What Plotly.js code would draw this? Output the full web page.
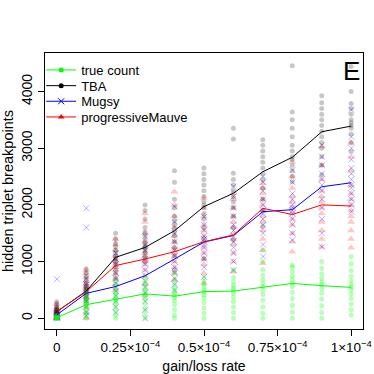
<!DOCTYPE html>
<html>
<head>
<meta charset="utf-8">
<script src="https://cdn.plot.ly/plotly-3.0.1.min.js"></script>
<style>html,body{margin:0;padding:0;background:#fff;}#chart{width:374px;height:374px;}</style>
</head>
<body>
<div id="chart"></div>
<script>
// gain/loss rates (x categories)
const rates = [0, 1e-5, 2e-5, 3e-5, 4e-5, 5e-5, 6e-5, 7e-5, 8e-5, 9e-5, 1e-4];
const seriesNames = ["true count", "TBA", "Mugsy", "progressiveMauve"];

// mean lines
const trueMean  = [10, 240, 335, 430, 390, 470, 480, 545, 615, 575, 545];
const tbaMean   = [115, 480, 1075, 1250, 1545, 1970, 2205, 2585, 2840, 3290, 3390];
const mugsyMean = [60, 440, 560, 750, 1045, 1345, 1460, 1880, 1915, 2320, 2390];
const mauveMean = [120, 470, 930, 1045, 1175, 1350, 1470, 1940, 1830, 2000, 1980];

// replicate points per rate
const truePts = [
  [0,0,0,5,10,10,15,20,25,30,40,55],
  [0,40,90,140,180,210,240,260,290,320,350,380,420,470],
  [0,60,130,200,260,300,330,360,400,440,480,540,600,660],
  [0,80,160,250,330,380,420,460,500,540,600,660,720],
  [0,60,150,240,310,360,400,440,480,530,600,680,790],
  [0,90,180,280,360,420,460,500,550,600,650,720],
  [0,100,200,290,370,440,490,530,580,640,720,850],
  [0,90,200,320,420,500,560,610,680,760,860,1000,1200],
  [0,110,230,350,460,560,620,680,740,820,900,940],
  [0,100,220,340,450,530,590,640,700,780,880,1000],
  [60,150,250,350,430,500,550,600,660,740,840,960,1090]
];
const tbaPts = [
  [0,30,60,80,100,120,140,160,180,210,250,290],
  [300,350,380,420,450,480,510,540,580,620,680,740,800,870],
  [700,800,880,950,1000,1050,1100,1150,1200,1260,1320,1400,1500],
  [1000,1080,1150,1200,1240,1280,1320,1380,1450,1520,1600,1750,1900,2000],
  [850,1100,1250,1350,1450,1520,1580,1650,1720,1800,1950,2100,2400,2600],
  [1050,1400,1600,1750,1850,1950,2000,2060,2150,2250,2350,2450,2550,2650],
  [1380,1600,1800,1950,2050,2150,2250,2350,2450,2560,3160,3350],
  [1620,1900,2100,2300,2450,2550,2650,2750,2850,2950,3050,3150],
  [2410,2500,2600,2700,2800,2850,2950,3050,3200,3350,3500,3640,4455],
  [2530,2700,2850,3000,3100,3200,3300,3400,3500,3600,3700,3800,3925],
  [2940,3100,3250,3350,3400,3450,3500,3600,3700,3790,4000,4440]
];
const mugsyPts = [
  [0,10,20,30,40,50,60,70,90,120,690],
  [50,100,200,300,380,450,500,550,600,700,1600,1940],
  [100,200,300,400,480,550,620,700,800,950,1050,1150],
  [0,150,300,450,550,650,750,850,950,1050,1200,1300,1450],
  [500,600,700,800,900,1000,1100,1200,1350,1500,1700,1970],
  [730,900,1050,1150,1250,1300,1350,1400,1450,1550,1650,1790],
  [850,1000,1150,1250,1350,1450,1550,1650,1800,1950,2150,2320],
  [1090,1300,1500,1650,1750,1850,1900,2000,2100,2250,2400,2500],
  [1380,1500,1650,1750,1850,1900,1950,2000,2100,2200,2400,2615],
  [1260,1500,1750,1950,2100,2250,2350,2450,2550,2700,2850,3055],
  [1880,2000,2100,2200,2300,2350,2450,2550,2650,2800,3000,3200,3675]
];
const mauvePts = [
  [0,0,20,40,60,80,100,120,140,160,200,250],
  [0,100,200,300,380,450,500,550,600,650,720,800,850],
  [500,600,700,780,850,900,950,1000,1050,1100,1200,1300,1400],
  [400,600,750,850,950,1000,1050,1100,1150,1250,1350,1500,1700,1850],
  [680,800,900,1000,1100,1150,1200,1250,1350,1450,1600,1800,2000,2230],
  [620,800,950,1050,1150,1250,1350,1450,1550,1650,1800,1950,2120],
  [820,1000,1150,1300,1400,1500,1600,1700,1800,1950,2100,2210],
  [970,1200,1400,1550,1700,1800,1900,2000,2100,2200,2300,2380],
  [1175,1350,1500,1650,1750,1850,1950,2050,2150,2300,2500,2760],
  [1260,1400,1550,1700,1850,1950,2050,2150,2250,2450,2700,3030],
  [1245,1400,1550,1700,1800,1900,2000,2100,2200,2350,2600,2850,3090]
];

// x tick labels
const xTickVals = [0, 2.5e-5, 5e-5, 7.5e-5, 1e-4];
const xTickText = ["0", "0.25\u00d710<sup>\u22124</sup>", "0.5\u00d710<sup>\u22124</sup>", "0.75\u00d710<sup>\u22124</sup>", "1\u00d710<sup>\u22124</sup>"];
const yTickVals = [0, 1000, 2000, 3000, 4000];

const FONT = "Liberation Sans, Arial, Helvetica, sans-serif";

function flat(pts, shift) {
  const xs = [], ys = [];
  pts.forEach((col, i) => col.forEach(v => { xs.push(rates[i] + shift); ys.push(v); }));
  return {x: xs, y: ys};
}

const styles = [
  {color: "#00FF00", pts: truePts, mean: trueMean, shift: 0,
   marker: {symbol: "circle", size: 5, color: "rgba(0,255,0,0.28)"},
   legMarker: {symbol: "circle", size: 5, color: "#00FF00"}},
  {color: "#000000", pts: tbaPts, mean: tbaMean, shift: -3e-8,
   marker: {symbol: "circle", size: 5, color: "rgba(0,0,0,0.22)"},
   legMarker: {symbol: "circle", size: 5, color: "#000000"}},
  {color: "#0000FF", pts: mugsyPts, mean: mugsyMean, shift: 4e-8,
   marker: {symbol: "x-thin-open", size: 6, color: "rgba(0,0,255,0.3)", line: {color: "rgba(0,0,255,0.3)", width: 1}},
   legMarker: {symbol: "x-thin-open", size: 6, color: "#0000FF", line: {color: "#0000FF", width: 1}}},
  {color: "#FF0000", pts: mauvePts, mean: mauveMean, shift: -5e-8,
   marker: {symbol: "triangle-up", size: 7, color: "rgba(255,0,0,0.22)"},
   legMarker: {symbol: "triangle-up", size: 6, color: "#FF0000"}}
];

const traces = [];
[3, 2, 1, 0].forEach(k => {
  const s = styles[k];
  const f = flat(s.pts, s.shift);
  traces.push({type: "scatter", mode: "markers", x: f.x, y: f.y, marker: s.marker,
    showlegend: false, hoverinfo: "skip"});
});
styles.forEach((s, k) => {
  traces.push({type: "scatter", mode: "lines", x: rates, y: s.mean,
    line: {color: s.color, width: 1}, showlegend: false});
});
const legendNames = ["legend", "legend2", "legend3", "legend4"];
styles.forEach((s, k) => {
  traces.push({type: "scatter", mode: "lines+markers", x: [null], y: [null],
    name: seriesNames[k], line: {color: s.color, width: 1}, marker: s.legMarker,
    showlegend: true, legend: legendNames[k]});
});

const rowPx = [70, 85.7, 101.3, 117];
const layout = {
  width: 374, height: 374,
  margin: {l: 45, r: 11, t: 53, b: 45},
  paper_bgcolor: "#fff", plot_bgcolor: "#fff",
  font: {family: FONT, size: 13, color: "#000"},
  showlegend: true,
  xaxis: {
    range: [-4e-6, 1.04e-4], tickmode: "array", tickvals: xTickVals, ticktext: xTickText,
    showgrid: false, zeroline: false, showline: true, mirror: true, linecolor: "#000", linewidth: 1,
    ticks: "outside", ticklen: 6, tickcolor: "#000", tickwidth: 1,
    tickfont: {family: FONT, size: 13.5, color: "#000"},
    title: {text: "gain/loss rate", font: {family: FONT, size: 14, color: "#000"}, standoff: 6}
  },
  yaxis: {
    range: [-189, 4679], tickmode: "array", tickvals: yTickVals,
    showgrid: false, zeroline: false, showline: true, mirror: true, linecolor: "#000", linewidth: 1,
    ticks: "outside", ticklen: 6, tickcolor: "#000", tickwidth: 1, tickangle: -90,
    tickfont: {family: FONT, size: 14, color: "#000"},
    title: {text: "hidden triplet breakpoints", font: {family: FONT, size: 14.5, color: "#000"}, standoff: 5}
  },
  annotations: [{
    text: "E", xref: "paper", yref: "paper", x: 0.9638, y: 0.933,
    xanchor: "center", yanchor: "middle", showarrow: false,
    font: {family: FONT, size: 26, color: "#000"}
  }]
};
legendNames.forEach((ln, i) => {
  layout[ln] = {
    x: -0.012, xanchor: "left", y: (329 - rowPx[i]) / 276, yanchor: "middle",
    bgcolor: "rgba(0,0,0,0)", borderwidth: 0,
    font: {family: FONT, size: 13, color: "#000"}
  };
});

Plotly.newPlot("chart", traces, layout, {displayModeBar: false, staticPlot: true});
</script>
</body>
</html>
